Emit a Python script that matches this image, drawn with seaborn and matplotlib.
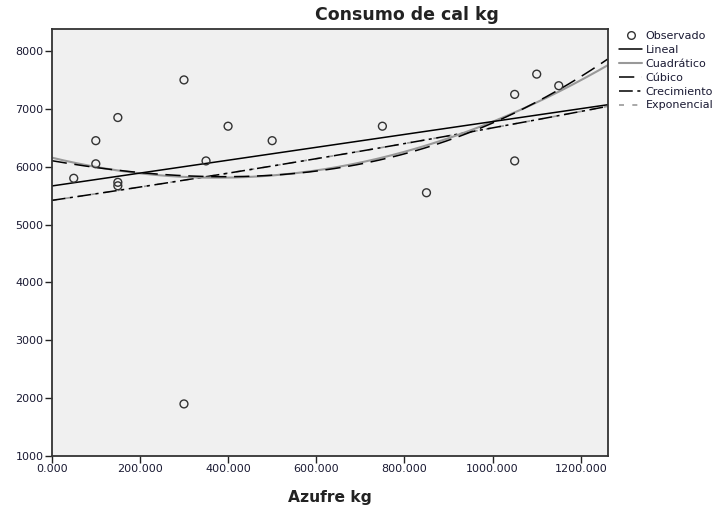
import numpy as np
import pandas as pd
import matplotlib
matplotlib.use("Agg")
import matplotlib.pyplot as plt
from matplotlib.lines import Line2D
from matplotlib.ticker import FuncFormatter
import seaborn as sns

# Observed data (Azufre kg, Consumo de cal kg)
azufre = [50, 100, 100, 150, 150, 150, 300, 300, 350, 400, 500, 750, 850, 1050, 1050, 1100, 1150]
cal = [5800, 6050, 6450, 6850, 5730, 5670, 7500, 1900, 6100, 6700, 6450, 6700, 5550, 7250, 6100, 7600, 7400]

x_ticks = [0, 200, 400, 600, 800, 1000, 1200]
y_ticks = [1000, 2000, 3000, 4000, 5000, 6000, 7000, 8000]
legend_labels = ["Observado", "Lineal", "Cuadrático", "Cúbico", "Crecimiento", "Exponencial"]

sns.set_theme(style="white")
plt.rcParams['font.family'] = ['DejaVu Sans']

df = pd.DataFrame({"x": azufre, "y": cal})
x = np.array(azufre, dtype=float)
y = np.array(cal, dtype=float)

xmax = 1261
grid = np.linspace(0, xmax, 300)
lin = np.polyval(np.polyfit(x, y, 1), grid)
quad = np.polyval(np.polyfit(x, y, 2), grid)
cub = np.polyval(np.polyfit(x, y, 3), grid)
b1, b0 = np.polyfit(x, np.log(y), 1)
expo = np.exp(b0 + b1 * grid)

fits = pd.DataFrame({"x": grid, "lin": lin, "quad": quad, "cub": cub, "exp": expo})

fig = plt.figure(figsize=(7.21, 5.08), dpi=100)
ax = fig.add_axes([51.7 / 721, 1 - 456 / 508, (607.7 - 51.7) / 721, (456 - 29) / 508])
ax.set_facecolor("#f0f0f0")

sns.lineplot(data=fits, x="x", y="exp", ax=ax, color="#999999", lw=1.2,
             linestyle=(0, (3, 5)))
sns.lineplot(data=fits, x="x", y="exp", ax=ax, color="black", lw=1.1,
             linestyle=(0, (9, 3, 2, 3)))
sns.lineplot(data=fits, x="x", y="quad", ax=ax, color="#999999", lw=1.5)
sns.lineplot(data=fits, x="x", y="cub", ax=ax, color="black", lw=1.1, linestyle=(0, (10, 5)))
sns.lineplot(data=fits, x="x", y="lin", ax=ax, color="black", lw=1.1)
sns.scatterplot(data=df, x="x", y="y", ax=ax, marker="o", s=32, facecolor="none",
                edgecolor="#333333", linewidth=1.0, zorder=5)

ax.set_xlim(0, xmax)
ax.set_ylim(1000, 8380)
ax.set_xticks(x_ticks)
ax.set_yticks(y_ticks)
ax.xaxis.set_major_formatter(FuncFormatter(lambda v, p: f"{v:.3f}"))
ax.yaxis.set_major_formatter(FuncFormatter(lambda v, p: f"{int(v)}"))
ax.tick_params(axis="both", direction="out", length=5, width=1.0, color="#222222",
               labelsize=8, labelcolor="#1a1a33", bottom=True, left=True, pad=1)
for s in ax.spines.values():
    s.set_color("#333333")
    s.set_linewidth(1.3)

ax.set_xlabel("Azufre kg", fontsize=11.2, fontweight="bold", color="#222222", labelpad=11)
ax.set_ylabel("")
fig.text(407 / 721, 1 - 15 / 508, "Consumo de cal kg", ha="center", va="center",
         fontsize=12.5, fontweight="bold", color="#222222")

handles = [
    Line2D([], [], marker="o", linestyle="none", markerfacecolor="none",
           markeredgecolor="#333333", markersize=5.5, markeredgewidth=1.0),
    Line2D([], [], color="black", lw=1.1),
    Line2D([], [], color="#999999", lw=1.5),
    Line2D([], [], color="black", lw=1.1, linestyle=(0, (10, 5))),
    Line2D([], [], color="black", lw=1.1, linestyle=(0, (9, 3, 2, 3))),
    Line2D([], [], color="#999999", lw=1.2, linestyle=(0, (3, 5))),
]
fig.legend(handles, legend_labels, loc="upper left", bbox_to_anchor=(619 / 721, 1 - 31 / 508),
           frameon=False, fontsize=8, handlelength=2.1, handletextpad=0.3,
           labelspacing=0.35, borderaxespad=0, borderpad=0, labelcolor="#1a1a33")

fig.savefig("out.png", dpi=100, facecolor="white")
